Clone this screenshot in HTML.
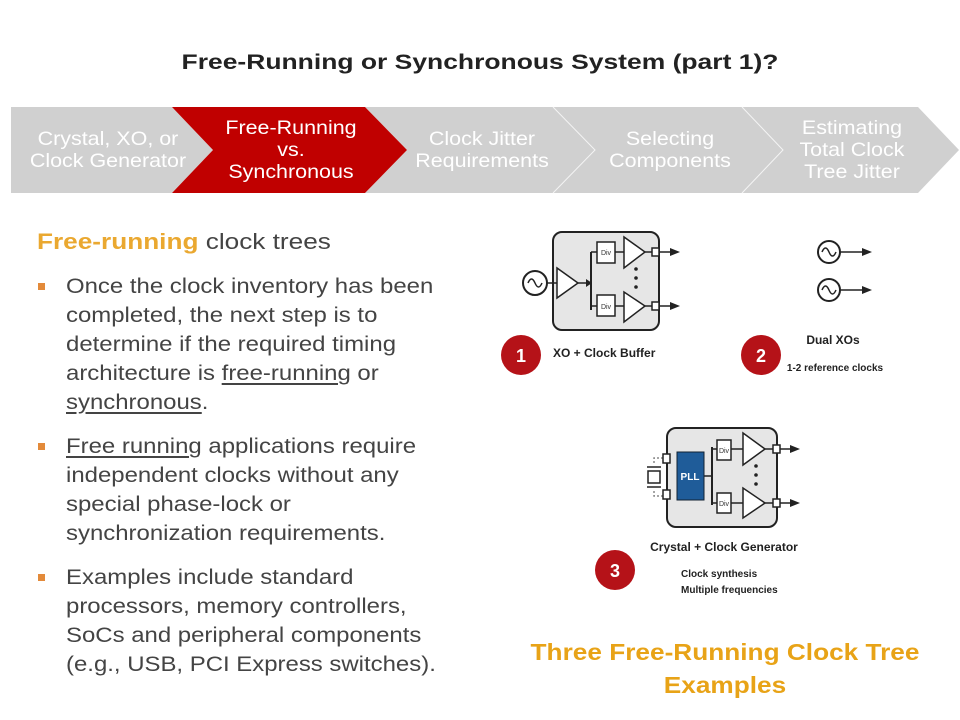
<!DOCTYPE html>
<html><head><meta charset="utf-8"><style>
body{margin:0;width:960px;height:720px;background:#fff;position:relative;overflow:hidden;font-family:"Liberation Sans",sans-serif}
.t{position:absolute;white-space:nowrap;transform-origin:left center}
.l{position:absolute;left:66px;font-size:21px;color:#444;white-space:nowrap;line-height:24px;transform:scaleX(1.14);transform-origin:left center}
.b{position:absolute;left:38px;width:7px;height:7px;background:#e38a3a}
u{text-decoration:underline;text-underline-offset:3px}
svg .s{transform-box:fill-box;transform-origin:center;transform:scaleX(1.13)}
svg .c{transform-box:fill-box;transform-origin:center;transform:scaleX(1.14)}
</style></head><body>
<div class="t" style="left:0;width:960px;text-align:center;top:51px;font-size:21px;font-weight:bold;color:#222;transform:scaleX(1.26);transform-origin:center">Free-Running or Synchronous System (part 1)?</div>
<svg width="960" height="720" style="position:absolute;left:0;top:0" font-family="Liberation Sans, sans-serif">
<polygon points="11,107 172,107 213,150 172,193 11,193" fill="#d0d0d0"/>
<polygon points="365,107 553,107 595,150 553,193 365,193 407,150" fill="#d0d0d0"/>
<polygon points="553,107 742,107 783,150 742,193 553,193 595,150" fill="#d0d0d0"/>
<polygon points="742,107 918,107 959,150 918,193 742,193 783,150" fill="#d0d0d0"/>
<polyline points="553,107 595,150 553,193" fill="none" stroke="#f4f4f4" stroke-width="1"/>
<polyline points="742,107 783,150 742,193" fill="none" stroke="#f4f4f4" stroke-width="1"/>
<polygon points="172,107 365,107 407,150 365,193 172,193 213,150" fill="#c00000"/>
<g fill="#fff" font-size="19" text-anchor="middle">
<text class="s" x="108" y="145">Crystal, XO, or</text><text class="s" x="108" y="167">Clock Generator</text>
<text class="s" x="291" y="134">Free-Running</text><text class="s" x="291" y="156">vs.</text><text class="s" x="291" y="178">Synchronous</text>
<text class="s" x="482" y="145">Clock Jitter</text><text class="s" x="482" y="167">Requirements</text>
<text class="s" x="670" y="145">Selecting</text><text class="s" x="670" y="167">Components</text>
<text class="s" x="852" y="134">Estimating</text><text class="s" x="852" y="156">Total Clock</text><text class="s" x="852" y="178">Tree Jitter</text>
</g>
<!-- fig1 -->
<g stroke="#222" stroke-width="1.5" fill="none">
<rect x="553" y="232" width="106" height="98" rx="9" fill="#e6e6e6" stroke-width="2"/>
<circle cx="535" cy="283" r="12" fill="#fff" stroke-width="2"/>
<path d="M528,283 q3.5,-8 7,0 t7,0"/>
<line x1="547" y1="283" x2="557" y2="283"/>
<polygon points="557,268 557,298 578,283" fill="#fff"/>
<line x1="578" y1="283" x2="590" y2="283"/>
<line x1="591" y1="252" x2="591" y2="310" stroke-width="2"/>
<line x1="591" y1="252" x2="597" y2="252"/><line x1="591" y1="306" x2="597" y2="306"/>
<rect x="597" y="242" width="18" height="21" fill="#fff"/><rect x="597" y="295" width="18" height="21" fill="#fff"/>
<line x1="615" y1="252" x2="624" y2="252"/><line x1="615" y1="306" x2="624" y2="306"/>
<polygon points="624,237 624,268 645,252" fill="#fff"/><polygon points="624,292 624,322 645,306" fill="#fff"/>
<line x1="645" y1="252" x2="672" y2="252"/><line x1="645" y1="306" x2="672" y2="306"/>
<rect x="652" y="248" width="7" height="8" fill="#fff"/><rect x="652" y="302" width="7" height="8" fill="#fff"/>
</g>
<g fill="#222"><polygon points="670,248 680,252 670,256"/><polygon points="670,302 680,306 670,310"/>
<polygon points="586,279 592,283 586,287"/>
<circle cx="636" cy="269" r="1.8"/><circle cx="636" cy="278" r="1.8"/><circle cx="636" cy="287" r="1.8"/></g>
<g font-size="7" fill="#333" text-anchor="middle"><text x="606" y="255">Div</text><text x="606" y="309">Div</text></g>
<text x="553" y="357" font-size="12" font-weight="bold" fill="#222">XO + Clock Buffer</text>
<!-- fig2 -->
<g stroke="#222" stroke-width="2" fill="#fff">
<circle cx="829" cy="252" r="11"/><circle cx="829" cy="290" r="11"/>
<path d="M822,252 q3.5,-8 7,0 t7,0" fill="none" stroke-width="1.5"/><path d="M822,290 q3.5,-8 7,0 t7,0" fill="none" stroke-width="1.5"/>
<line x1="840" y1="252" x2="864" y2="252" stroke-width="1.5"/><line x1="840" y1="290" x2="864" y2="290" stroke-width="1.5"/>
</g>
<g fill="#222"><polygon points="862,248 872,252 862,256"/><polygon points="862,286 872,290 862,294"/></g>
<text x="833" y="344" font-size="12" font-weight="bold" fill="#222" text-anchor="middle">Dual XOs</text>
<text x="835" y="371" font-size="10" font-weight="bold" fill="#222" text-anchor="middle">1-2 reference clocks</text>
<!-- fig3 -->
<g stroke="#222" stroke-width="1.5" fill="none">
<rect x="667" y="428" width="110" height="99" rx="9" fill="#e6e6e6" stroke-width="2"/>
<polyline points="667,458 654,458 654,465" stroke="#888" stroke-dasharray="2,2"/>
<polyline points="667,496 654,496 654,489" stroke="#888" stroke-dasharray="2,2"/>
<line x1="647" y1="467" x2="661" y2="467"/><rect x="648" y="471" width="12" height="12" fill="#fff"/><line x1="647" y1="487" x2="661" y2="487"/>
<rect x="663" y="454" width="7" height="9" fill="#fff"/><rect x="663" y="490" width="7" height="9" fill="#fff"/>
<line x1="704" y1="476" x2="712" y2="476"/>
<line x1="712" y1="447" x2="712" y2="505" stroke-width="2"/>
<line x1="712" y1="449" x2="717" y2="449"/><line x1="712" y1="503" x2="717" y2="503"/>
<rect x="717" y="440" width="14" height="20" fill="#fff"/><rect x="717" y="493" width="14" height="20" fill="#fff"/>
<line x1="731" y1="449" x2="743" y2="449"/><line x1="731" y1="503" x2="743" y2="503"/>
<polygon points="743,433 743,465 765,449" fill="#fff"/><polygon points="743,488 743,518 765,503" fill="#fff"/>
<line x1="765" y1="449" x2="792" y2="449"/><line x1="765" y1="503" x2="792" y2="503"/>
<rect x="773" y="445" width="7" height="8" fill="#fff"/><rect x="773" y="499" width="7" height="8" fill="#fff"/>
</g>
<rect x="677" y="452" width="27" height="48" fill="#1f5c99" stroke="#123" stroke-width="1"/>
<text x="690" y="480" font-size="10" font-weight="bold" fill="#fff" text-anchor="middle">PLL</text>
<g fill="#222"><polygon points="790,445 800,449 790,453"/><polygon points="790,499 800,503 790,507"/>
<circle cx="756" cy="466" r="1.8"/><circle cx="756" cy="475" r="1.8"/><circle cx="756" cy="484" r="1.8"/></g>
<g font-size="7" fill="#333" text-anchor="middle"><text x="724" y="453">Div</text><text x="724" y="506">Div</text></g>
<text x="724" y="551" font-size="12" font-weight="bold" fill="#222" text-anchor="middle">Crystal + Clock Generator</text>
<text x="681" y="577" font-size="10" font-weight="bold" fill="#222">Clock synthesis</text>
<text x="681" y="593" font-size="10" font-weight="bold" fill="#222">Multiple frequencies</text>
<!-- badges -->
<g fill="#b51218"><circle cx="521" cy="355" r="20"/><circle cx="761" cy="355" r="20"/><circle cx="615" cy="570" r="20"/></g>
<g fill="#fff" font-size="18" font-weight="bold" text-anchor="middle"><text x="521" y="362">1</text><text x="761" y="362">2</text><text x="615" y="577">3</text></g>
<g fill="#e8a317" font-size="23" font-weight="bold" text-anchor="middle"><text class="c" x="725" y="660">Three Free-Running Clock Tree</text><text class="c" x="725" y="693">Examples</text></g>
</svg>
<div class="t" style="left:37px;top:229px;font-size:22px;color:#444;transform:scaleX(1.19)"><b style="color:#eaa830">Free-running</b> clock trees</div>
<div class="b" style="top:283px"></div>
<div class="l" style="top:275px">Once the clock inventory has been</div>
<div class="l" style="top:304px">completed, the next step is to</div>
<div class="l" style="top:333px">determine if the required timing</div>
<div class="l" style="top:362px">architecture is <u>free-running</u> or</div>
<div class="l" style="top:391px"><u>synchronous</u>.</div>
<div class="b" style="top:443px"></div>
<div class="l" style="top:435px"><u>Free running</u> applications require</div>
<div class="l" style="top:464px">independent clocks without any</div>
<div class="l" style="top:493px">special phase-lock or</div>
<div class="l" style="top:522px">synchronization requirements.</div>
<div class="b" style="top:574px"></div>
<div class="l" style="top:566px">Examples include standard</div>
<div class="l" style="top:595px">processors, memory controllers,</div>
<div class="l" style="top:624px">SoCs and peripheral components</div>
<div class="l" style="top:653px">(e.g., USB, PCI Express switches).</div>
</body></html>
